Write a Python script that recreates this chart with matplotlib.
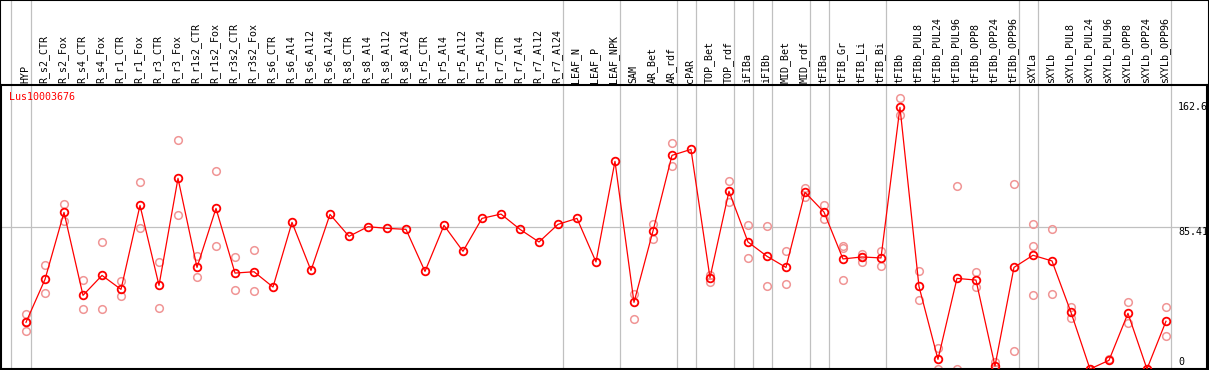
import numpy as np
import matplotlib
matplotlib.use("Agg")
import matplotlib.pyplot as plt
import matplotlib.transforms as mtransforms
from matplotlib.patches import Rectangle

# sample names along the top
samples = ["HYP", "R_s2_CTR", "R_s2_Fox", "R_s4_CTR", "R_s4_Fox", "R_r1_CTR", "R_r1_Fox",
           "R_r3_CTR", "R_r3_Fox", "R_r1s2_CTR", "R_r1s2_Fox", "R_r3s2_CTR", "R_r3s2_Fox",
           "R_s6_CTR", "R_s6_Al4", "R_s6_Al12", "R_s6_Al24", "R_s8_CTR", "R_s8_Al4",
           "R_s8_Al12", "R_s8_Al24", "R_r5_CTR", "R_r5_Al4", "R_r5_Al12", "R_r5_Al24",
           "R_r7_CTR", "R_r7_Al4", "R_r7_Al12", "R_r7_Al24", "LEAF_N", "LEAF_P", "LEAF_NPK",
           "SAM", "AR_Bet", "AR_rdf", "cPAR", "TOP_Bet", "TOP_rdf", "iFIBa", "iFIBb",
           "MID_Bet", "MID_rdf", "tFIBa", "tFIB_Gr", "tFIB_Li", "tFIB_Bi", "tFIBb",
           "tFIBb_PUL8", "tFIBb_PUL24", "tFIBb_PUL96", "tFIBb_OPP8", "tFIBb_OPP24",
           "tFIBb_OPP96", "sXYLa", "sXYLb", "sXYLb_PUL8", "sXYLb_PUL24", "sXYLb_PUL96",
           "sXYLb_OPP8", "sXYLb_OPP24", "sXYLb_OPP96"]

# mean expression per sample
means = [28.1, 53.9, 94.2, 44.3, 56.3, 47.9, 98.4, 50.3, 114.7, 61.1, 96.6, 57.7, 58.5,
         49.3, 88.2, 59.3, 93.0, 79.8, 85.6, 84.6, 84.0, 58.7, 86.4, 70.8, 90.6,
         93.2, 84.0, 76.4, 87.0, 90.6, 64.4, 124.9,
         40.1, 83.0, 128.5, 132.1, 54.9, 106.9, 76.4, 67.8, 61.1, 106.3, 94.4,
         66.2, 67.4, 66.8, 157.4, 49.7, 5.8, 54.5, 53.5, 1.8, 61.1,
         68.4, 65.0, 34.1, 0.0, 5.2, 33.5, 0.0, 28.7]

# individual replicates (empty where none shown)
reps = [[33.1, 23.1, 28.1], [62.3, 45.5], [99.2, 89.2], [53.3, 35.9], [76.4, 35.9],
        [52.9, 43.7], [112.7, 84.6], [64.4, 36.7], [137.5, 92.6], [67.8, 55.1],
        [118.9, 73.8], [67.2, 47.3], [71.4, 46.7],
        [], [], [], [], [], [], [], [], [], [], [], [], [], [], [], [], [], [], [],
        [44.9, 29.9], [87.2, 78.0], [135.7, 121.9], [], [56.5, 52.1], [112.9, 100.2],
        [86.6, 66.8], [85.8, 49.9], [71.0, 50.9], [108.9, 103.6], [98.6, 90.0],
        [73.8, 72.6, 53.3], [69.2, 64.4, 67.4], [71.0, 61.7], [162.8, 152.6],
        [58.7, 41.3], [12.4, 0.0], [109.9, 0.0], [58.3, 49.1], [4.4, 0.0], [111.1, 10.8],
        [87.0, 73.8, 44.3], [84.0, 44.9], [37.3, 30.5], [0.0], [5.8], [40.1, 27.7], [0.0],
        [37.1, 19.6]]

# group separators (after these sample indices)
separators = [-1.05, 0, 28, 31, 34, 35, 37, 38, 39, 41, 42, 45, 52, 53, 60]
scale_labels = ["162.6", "85.41", "0"]
gene = "Lus10003676"

mono = "DejaVu Sans Mono"
fs = 7.2
grey = "#c0c0c0"

fig = plt.figure(figsize=(12.09, 3.70), dpi=100)
ax = fig.add_axes([1 / 1209, 1 / 370, 1206 / 1209, 284 / 370])
x = np.arange(len(samples))
ax.set_xlim(-1.316, 62.16)
ymax = 162.6 * 1.0506
ax.set_ylim(0, ymax)
ax.set_xticks([])
ax.set_yticks([])
for s in ax.spines.values():
    s.set_linewidth(1.5)

trans = mtransforms.blended_transform_factory(ax.transData, ax.transAxes)

for sep in separators:
    ax.axvline(sep + 0.26, ymin=0, ymax=1.31, color=grey, lw=0.9, clip_on=False, zorder=1)
ax.axhline(ymax / 2, color=grey, lw=0.9, zorder=1)

for i, r in enumerate(reps):
    if r:
        ax.plot([i] * len(r), r, 'o', mfc='none', mec='#f09595', ms=5.5, mew=1.1, zorder=2)

ax.plot(x, means, '-', color='red', lw=0.9, zorder=3)
ax.plot(x, means, 'o', mfc='none', mec='red', ms=5.5, mew=1.3, zorder=4)

for i, name in enumerate(samples):
    ax.text(i - 0.05, 1.008, name, rotation=90, ha='center', va='bottom',
            fontsize=fs, family=mono, transform=trans)

ax.text(-0.87, 0.958, gene, color='red', fontsize=fs, family=mono,
        ha='left', va='center', transform=trans)

for lab, yf in zip(scale_labels, [0.9225, 0.482, 0.0257]):
    ax.text(60.63, yf, lab, fontsize=fs, family=mono, ha='left', va='center',
            transform=trans, clip_on=False)

fig.patches.append(Rectangle((0, 0), 1, 1, transform=fig.transFigure, fill=False,
                             edgecolor='black', lw=1.5))

plt.savefig('out.png', dpi=100, facecolor='white')
